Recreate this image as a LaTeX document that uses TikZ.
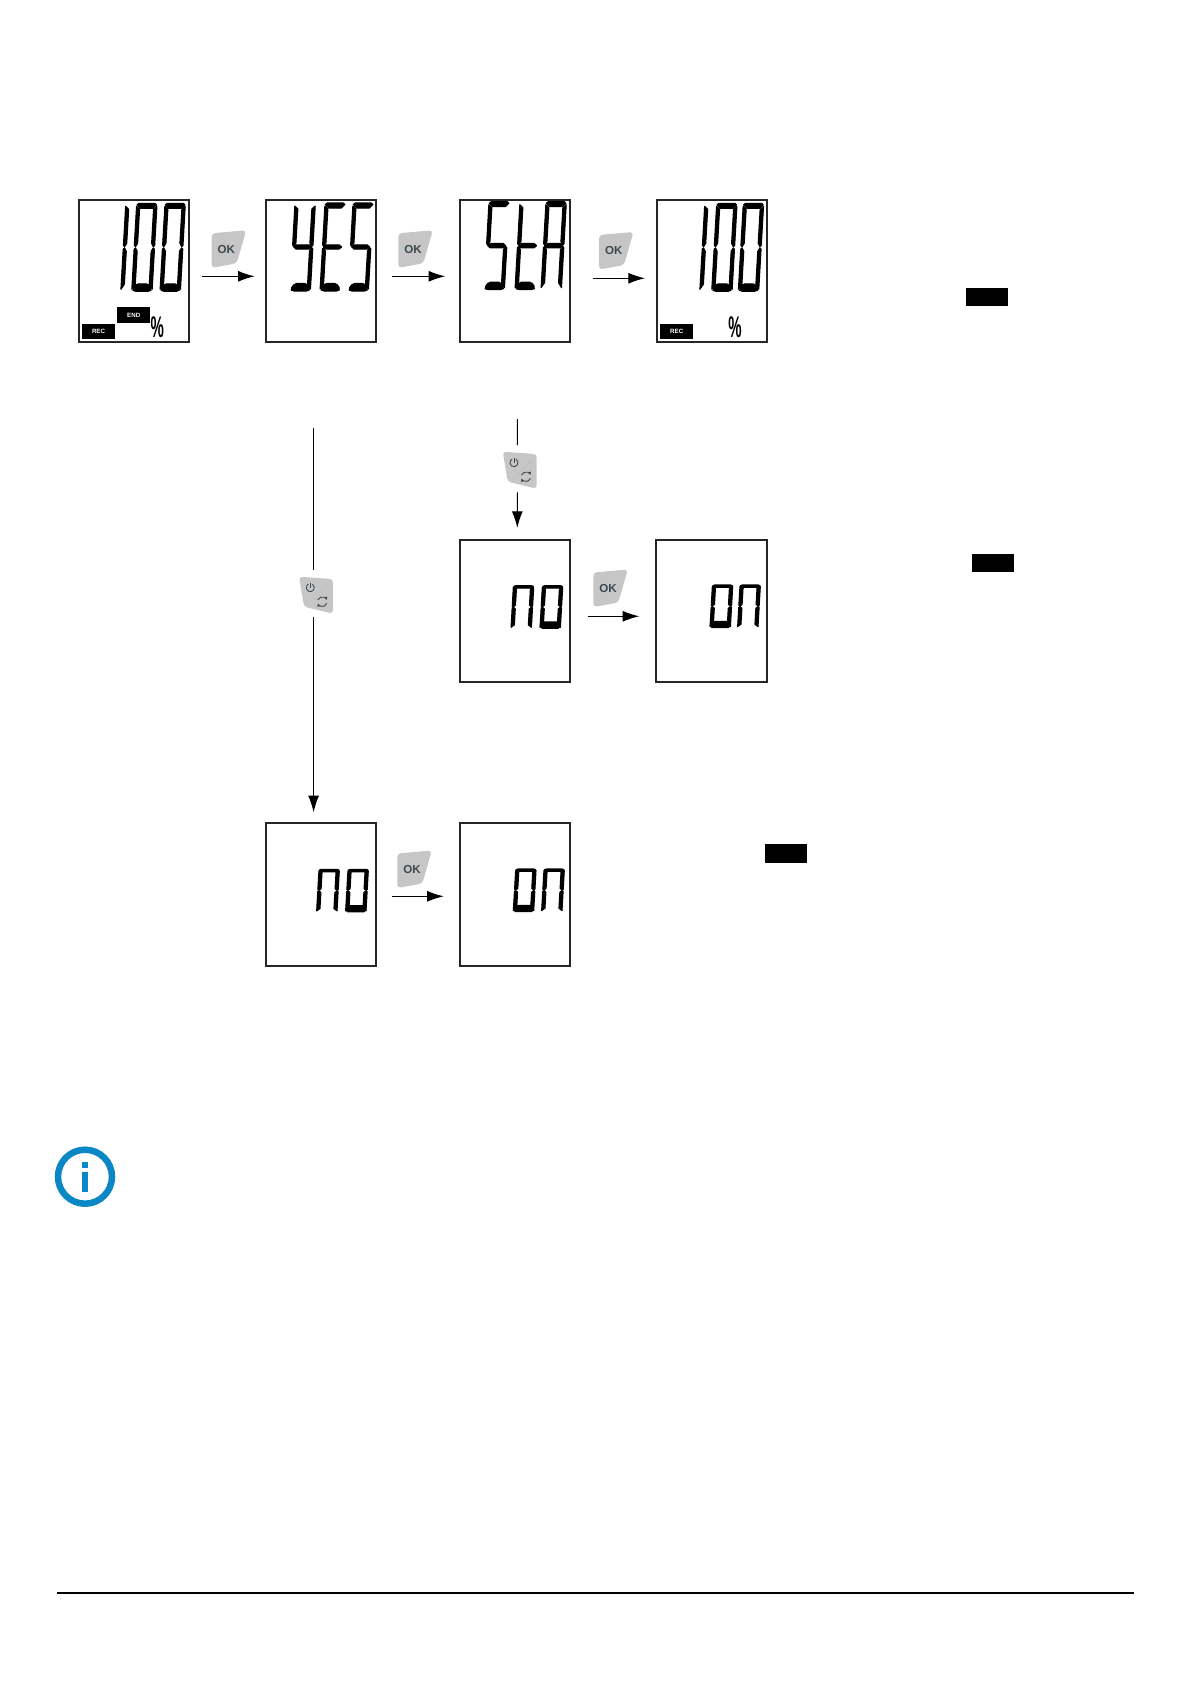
\documentclass[tikz,border=0pt]{standalone}
\usepackage{fontspec}
\setmainfont{Liberation Sans}
\usetikzlibrary{arrows.meta}
\definecolor{keygrey}{HTML}{C6C6C6}
\definecolor{keytext}{HTML}{3F4A50}
\definecolor{infoblue}{HTML}{0A87C4}
\newcommand{\upx}{0.567pt}
\tikzset{
  lcdpanel/.style={draw=black!85, line width=1.1pt, fill=white, minimum width=62.6pt, minimum height=81pt, inner sep=0pt, outer sep=0pt},
  flowarrow/.style={-{Latex[length=9.5pt,width=6.2pt]}, line width=0.6pt},
  flowline/.style={line width=0.6pt},
  gap/.style 2 args={shorten <=#1*\upx, shorten >=#2*\upx},
  lcdflag/.style={fill=black, text=white, inner sep=0pt, minimum width=18.7pt, minimum height=8.8pt, font=\bfseries\fontsize{3.5}{3.5}\selectfont},
  hidebox/.style={fill=black, inner sep=0pt, minimum width=24pt, minimum height=10.8pt},
  pctsign/.style={inner sep=0pt, font=\bfseries\fontsize{17}{17}\selectfont},
  lcdseg/.style={fill=black, draw=black, line width=0.6pt, line join=round},
  digit/.style={shift={#1}, xslant=.057, xscale=.85},
  smalldigit/.style={shift={#1}, xslant=.057, xscale=.85, yscale=.484},
  % segments of one display digit, cell 24 wide and 88 high
  pics/sega/.style={code={\path[lcdseg] (2.5,0) -- (21.5,0) -- (23.5,1.5) -- (19.5,5) -- (4.5,5) -- (.5,1.5) -- cycle;}},
  pics/segf/.style={code={\path[lcdseg] (0,3) -- (3.8,6) -- (3.8,40) -- (1.5,43.5) -- (0,42) -- cycle;}},
  pics/segb/.style={code={\path[lcdseg] (24,3) -- (24,42) -- (22.5,43.5) -- (20.2,40) -- (20.2,6) -- cycle;}},
  pics/segg/.style={code={\path[lcdseg] (1.5,44) -- (4.5,41.8) -- (19.5,41.8) -- (22.5,44) -- (19.5,46.2) -- (4.5,46.2) -- cycle;}},
  pics/sege/.style={code={\path[lcdseg] (0,46) -- (1.5,44.5) -- (3.8,48) -- (3.8,81) -- (0,86) -- cycle;}},
  pics/segc/.style={code={\path[lcdseg] (24,46) -- (22.5,44.5) -- (20.2,48) -- (20.2,81) -- (24,86) -- cycle;}},
  pics/segd/.style={code={\path[lcdseg, rounded corners=1pt] (5,80.5) -- (19,80.5) -- (23.5,86) -- (21.5,88) -- (2.5,88) -- (.5,86) -- cycle;}},
  pics/segD/.style={code={\path[lcdseg] (3.8,75) -- (20.2,75) -- (24,84) -- (21.5,88) -- (2.5,88) -- (0,84) -- cycle;}},
  pics/lcd/.style={code={\foreach \s in {#1} \pic[transform shape] {seg\s};}},
  pics/okkey/.style={code={
    \fill[keygrey, rounded corners=2pt] (0,0) -- (34.5,-3) -- (25,30) -- (0,34.6) -- cycle;
    \node[text=keytext, inner sep=0pt, font=\bfseries\fontsize{6.6}{6.6}\selectfont] (-label) at (14.7,16) {OK};
  }},
  pics/modekey/.style={code={
    \fill[keygrey, rounded corners=2pt] (0,0) -- (34,2.4) -- (34,37) -- (5,30) -- cycle;
    \draw[white!75!black, line width=0.5pt] (28,9) -- (14.6,23.3);
    \draw[keytext, line width=0.5pt] (11.3,11) ++(-60:4) arc[start angle=-60, end angle=240, radius=4];
    \draw[keytext, line width=0.5pt] (11.3,6) -- (11.3,11);
    \draw[keytext, line width=0.5pt, -{Latex[length=1.8pt,width=2pt]}] (23.3,25) ++(200:4.8) arc[start angle=200, end angle=340, radius=4.8];
    \draw[keytext, line width=0.5pt, -{Latex[length=1.8pt,width=2pt]}] (23.3,25) ++(20:4.8) arc[start angle=20, end angle=160, radius=4.8];
    \coordinate (-n) at (14.6,-6.7);
    \coordinate (-s) at (14.6,40.6);
  }},
}
\begin{document}
\begin{tikzpicture}[x=0.02cm,y=-0.02cm]
\useasboundingbox (0,0) rectangle (1191,1684);

% display panels
\node[lcdpanel] (panelA) at (133.75,271) {};
\node[lcdpanel] (panelB) at (320.7,271) {};
\node[lcdpanel] (panelC) at (514.75,271) {};
\node[lcdpanel] (panelD) at (712,271) {};
\node[lcdpanel] (panelE) at (514.75,611) {};
\node[lcdpanel, minimum width=63.2pt] (panelF) at (711.3,611) {};
\node[lcdpanel] (panelG) at (320.7,894.5) {};
\node[lcdpanel] (panelH) at (514.75,894.5) {};

% first row of digits
\pic[digit={(125.8,203.3)}] {lcd={f,e}};
\pic[digit={(136.7,203.3)}] {lcd={a,b,c,d,e,f}};
\pic[digit={(165,203.3)}] {lcd={a,b,c,d,e,f}};
\pic[digit={(295,203)}] {lcd={f,b,g,c,d}};
\pic[digit={(325,203)}] {lcd={a,f,g,e,d}};
\pic[digit={(353,203)}] {lcd={a,f,g,c,d}};
\pic[digit={(489,201.7)}] {lcd={a,f,g,c,d}};
\pic[digit={(520,201.7)}] {lcd={f,g,e,d}};
\pic[digit={(546,201.7)}] {lcd={a,b,c,e,f,g}};
\pic[digit={(704.8,203.3)}] {lcd={f,e}};
\pic[digit={(716.7,203.3)}] {lcd={a,b,c,d,e,f}};
\pic[digit={(743.3,203.3)}] {lcd={a,b,c,d,e,f}};

% small digits
\pic[smalldigit={(513.4,585.7)}] {lcd={a,b,c,e,f}};
\pic[smalldigit={(542.4,585.7)}] {lcd={a,b,c,D,e,f}};
\pic[smalldigit={(712.4,585)}] {lcd={a,b,c,D,e,f}};
\pic[smalldigit={(740,585)}] {lcd={a,b,c,e,f}};
\pic[smalldigit={(319,869.3)}] {lcd={a,b,c,e,f}};
\pic[smalldigit={(348,869.3)}] {lcd={a,b,c,D,e,f}};
\pic[smalldigit={(515.7,869)}] {lcd={a,b,c,D,e,f}};
\pic[smalldigit={(544,869)}] {lcd={a,b,c,e,f}};

% flags inside the panels
\node[lcdflag] (flagend) at (133.7,315) {END};
\node[lcdflag] (flagrec) at (98.5,331.7) {REC};
\node[lcdflag] (flagrecb) at (676.7,331.7) {REC};
\node[pctsign] (pcta) at (157.3,327) {\scalebox{.5}[1]{\%}};
\node[pctsign] (pctb) at (735,327.5) {\scalebox{.5}[1]{\%}};

% keys
\pic (okA) at (211.7,233.3) {okkey};
\pic (okB) at (398.3,233.3) {okkey};
\pic (okC) at (599,235) {okkey};
\pic (okD) at (593.3,572.5) {okkey};
\pic (okE) at (397.3,853.5) {okkey};
\pic (modeA) at (299,576.7) {modekey};
\pic (modeB) at (502.7,451.7) {modekey};

% arrows between panels
\draw[flowarrow, gap={13.3}{11}] ([yshift=-5.3*\upx]panelA.east) -- ([yshift=-5.3*\upx]panelB.west);
\draw[flowarrow, gap={16.5}{14.5}] ([yshift=-5.3*\upx]panelB.east) -- ([yshift=-5.3*\upx]panelC.west);
\draw[flowarrow, gap={23}{12}] ([yshift=-7.3*\upx]panelC.east) -- ([yshift=-7.3*\upx]panelD.west);
\draw[flowarrow, gap={18}{16.5}] ([yshift=-5.3*\upx]panelE.east) -- ([yshift=-5.3*\upx]panelF.west);
\draw[flowarrow, gap={16}{16}] ([yshift=-1.8*\upx]panelG.east) -- ([yshift=-1.8*\upx]panelH.west);

% arrows through the mode keys
\coordinate (startA) at (313.6,427.5);
\coordinate (startB) at (517.3,419);
\coordinate (endA) at (313.6,812.3);
\coordinate (endB) at (517.3,528);
\draw[flowline] (startA) -- (modeA-n);
\draw[flowarrow] (modeA-s) -- (endA);
\draw[flowline] (startB) -- (modeB-n);
\draw[flowarrow] (modeB-s) -- (endB);

% filled bars on the right
\node[hidebox] (barA) at (986.7,297) {};
\node[hidebox] (barB) at (993,563) {};
\node[hidebox] (barC) at (785.8,853.8) {};

% info icon
\draw[infoblue, line width=3.7pt] (85,1176.7) circle (27);
\fill[infoblue] (82,1161.7) rectangle (88,1168);
\fill[infoblue] (82,1171.5) rectangle (88,1192);

% page rule
\coordinate (ruleL) at (56.7,1593.3);
\coordinate (ruleR) at (1134,1593.3);
\draw[line width=1pt] (ruleL) -- (ruleR);
\end{tikzpicture}
\end{document}
